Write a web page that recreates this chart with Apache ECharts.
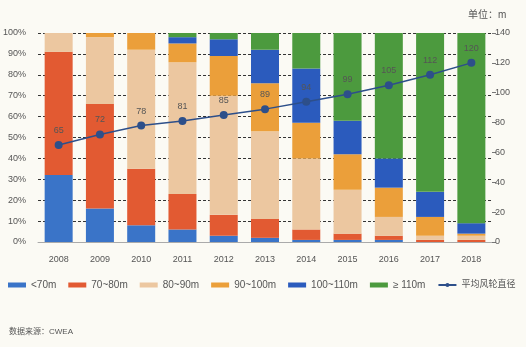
<!DOCTYPE html>
<html>
<head>
<meta charset="utf-8">
<script src="https://cdn.jsdelivr.net/npm/echarts@6/dist/echarts.min.js"></script>
<style>
html,body{margin:0;padding:0;background:#fbfaf4;}
#c{width:526px;height:347px;}
</style>
</head>
<body>
<div id="c"></div>
<script>
var years = ['2008','2009','2010','2011','2012','2013','2014','2015','2016','2017','2018'];
var lt70     = [32,16, 8, 6, 3, 2, 1, 1, 1, 0, 0];
var r70_80   = [59,50,27,17,10, 9, 5, 3, 2, 1, 1];
var r80_90   = [ 9,32,57,63,57,42,34,21, 9, 2, 2];
var r90_100  = [ 0, 2, 8, 9,19,23,17,17,14, 9, 1];
var r100_110 = [ 0, 0, 0, 3, 8,16,26,16,14,12, 5];
var ge110    = [ 0, 0, 0, 2, 3, 8,17,42,60,76,91];
var avgDiam  = [65,72,78,81,85,89,94,99,105,112,120];
var seriesNames = ['<70m','70~80m','80~90m','90~100m','100~110m','≥ 110m','平均风轮直径'];

var FONT = '"Liberation Sans", "Noto Sans CJK SC", sans-serif';
var colors = ['#3a74c8','#e25a32','#ecc7a0','#eb9f3a','#2b5bbd','#4c9a3e','#2d4f8a'];
var stacks = [lt70, r70_80, r80_90, r90_100, r100_110, ge110];

var series = stacks.map(function(d, i){
  return {
    name: seriesNames[i], type: 'bar', stack: 'a', data: d, barWidth: 28,
    itemStyle: {color: colors[i]}, emphasis: {disabled: true}
  };
});
series.push({
  name: seriesNames[6], type: 'line', yAxisIndex: 1, data: avgDiam,
  symbol: 'circle', symbolSize: 8,
  lineStyle: {color: colors[6], width: 1.5},
  itemStyle: {color: colors[6]},
  label: {show: true, position: 'top', distance: 6, color: '#555', fontSize: 9, fontFamily: FONT},
  z: 5
});

var chart = echarts.init(document.getElementById('c'));
chart.setOption({
  backgroundColor: '#fbfaf4',
  animation: false,
  textStyle: {fontFamily: FONT},
  grid: {left: 38, right: 34, top: 33, bottom: 105},
  legend: {
    left: 8, top: 280, width: 518, padding: 0,
    itemWidth: 18, itemHeight: 5, itemGap: 12,
    textStyle: {color: '#555', fontSize: 10, fontFamily: FONT, rich: {cn: {fontSize: 9, color: '#555', fontFamily: FONT}}},
    formatter: function(name){ return /[\u4e00-\u9fff]/.test(name) ? '{cn|' + name + '}' : name; },
    data: seriesNames.map(function(n, i){
      return i < 6 ? {name: n, icon: 'rect'} : {name: n};
    })
  },
  graphic: [
    {type: 'text', left: 468, top: 10, style: {text: '单位：m', fill: '#555', font: '10px ' + FONT}},
    {type: 'text', left: 9, top: 328, style: {text: '数据来源：CWEA', fill: '#555', font: '8px ' + FONT}}
  ],
  xAxis: {
    type: 'category', data: years,
    axisLine: {show: true, lineStyle: {color: '#aaa'}},
    axisTick: {show: false},
    axisLabel: {color: '#555', fontSize: 9, margin: 13}
  },
  yAxis: [
    {
      type: 'value', min: 0, max: 100, interval: 10,
      axisLabel: {formatter: '{value}%', color: '#555', fontSize: 9, margin: 12},
      axisLine: {show: false}, axisTick: {show: false},
      splitLine: {show: true, lineStyle: {color: '#333', type: [3, 2], width: 1}}
    },
    {
      type: 'value', min: 0, max: 140, interval: 20, position: 'right',
      axisLabel: {color: '#555', fontSize: 9, margin: 3},
      axisLine: {show: false},
      axisTick: {show: true, length: 4, lineStyle: {color: '#777'}},
      splitLine: {show: false}
    }
  ],
  series: series
});
</script>
</body>
</html>
